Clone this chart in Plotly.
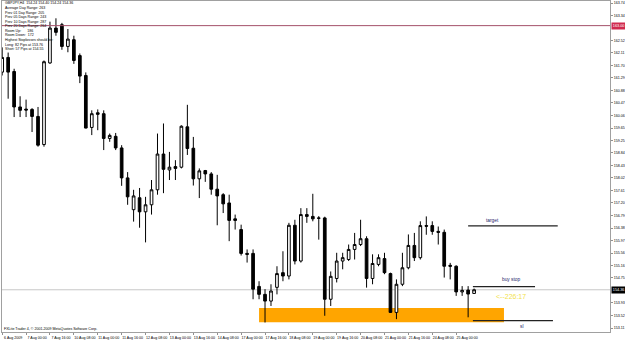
import plotly.graph_objects as go

# ---------------- data (GBPJPY H4) ----------------
OPEN = [161.48, 161.96, 161.50, 160.34, 160.27, 160.26, 160.03, 159.11, 161.78, 162.92,
        163.03, 162.32, 162.54, 162.02, 161.37, 159.67, 160.15, 160.12, 159.31, 159.38,
        159.00, 158.02, 156.98, 157.37, 156.91, 157.14, 157.63, 158.80, 158.28, 158.39,
        158.37, 159.69, 158.99, 157.99, 158.26, 158.15, 157.65, 157.47, 157.20, 156.68,
        156.33, 155.55, 155.55, 154.47, 154.21, 153.99, 154.44, 154.92, 154.81, 156.47,
        155.30, 156.82, 156.76, 156.71, 156.71, 154.05, 154.73, 155.30, 155.35, 155.68,
        155.84, 156.03, 154.73, 155.19, 155.38, 154.89, 153.62, 154.54, 155.08, 155.81,
        155.41, 156.46, 156.46, 156.27, 156.24, 155.16, 155.13, 154.29, 154.35, 154.24]
HIGH = [162.29, 162.12, 161.59, 160.69, 160.58, 160.30, 160.34, 161.86, 163.13, 163.24,
        163.09, 162.89, 162.67, 162.09, 161.47, 160.23, 160.26, 160.23, 159.47, 159.49,
        159.09, 158.21, 157.63, 157.69, 157.40, 157.95, 159.47, 159.80, 158.87, 158.60,
        159.74, 160.41, 159.36, 158.33, 158.28, 158.21, 158.12, 157.52, 157.47, 156.82,
        156.49, 155.68, 155.68, 154.64, 154.38, 154.54, 155.13, 155.62, 156.55, 156.65,
        157.03, 157.03, 157.50, 156.77, 156.75, 154.96, 155.57, 155.57, 155.84, 156.22,
        156.65, 156.11, 155.52, 155.52, 155.57, 154.92, 154.70, 155.57, 156.17, 156.22,
        156.60, 156.76, 156.60, 156.43, 156.33, 155.24, 155.16, 154.48, 154.48, 154.40]
LOW = [161.37, 160.61, 160.01, 160.01, 160.01, 159.52, 159.04, 159.04, 161.75, 162.67,
       162.21, 162.13, 161.75, 161.12, 159.64, 159.42, 159.58, 158.93, 159.20, 158.93,
       157.76, 157.14, 156.59, 156.39, 155.91, 156.82, 157.47, 157.52, 157.95, 157.95,
       158.33, 158.77, 157.77, 157.36, 157.89, 157.47, 156.47, 156.87, 155.95, 156.33,
       155.48, 155.25, 154.05, 154.05, 153.29, 153.83, 154.21, 154.64, 154.70, 155.19,
       155.25, 156.55, 156.60, 156.00, 153.51, 153.83, 154.60, 155.03, 155.30, 155.35,
       155.79, 154.43, 154.54, 155.13, 154.87, 153.60, 153.40, 154.48, 155.03, 155.30,
       155.35, 156.16, 156.16, 155.84, 154.76, 154.70, 154.16, 154.16, 153.46, 154.24]
CLOSE = [161.96, 161.48, 160.34, 160.23, 160.24, 160.03, 159.09, 161.82, 162.92, 162.78,
         162.32, 162.56, 161.86, 161.35, 159.65, 160.12, 160.10, 159.31, 159.41, 159.00,
         158.02, 157.40, 157.43, 156.91, 157.14, 157.63, 158.80, 158.30, 158.37, 158.33,
         159.71, 158.98, 157.99, 158.25, 158.15, 157.65, 157.43, 157.17, 156.63, 156.63,
         155.55, 155.52, 154.38, 154.21, 153.99, 154.32, 154.89, 154.81, 156.47, 155.30,
         156.82, 156.76, 156.68, 156.70, 154.05, 154.80, 155.30, 155.41, 155.68, 155.84,
         156.03, 154.73, 155.22, 155.41, 154.92, 153.62, 154.54, 155.08, 155.81, 155.41,
         156.46, 156.44, 156.27, 156.24, 155.13, 155.13, 154.29, 154.34, 154.22, 154.36]
BARS = list(range(len(OPEN)))

TIME_TICK_BARS = [0, 4, 8, 12, 16, 20, 24, 28, 32, 36, 40, 44, 48, 52, 56, 60, 64, 68, 72, 76]
TIME_TICK_LABELS = ["6 Aug 2009", "7 Aug 00:00", "7 Aug 16:00", "10 Aug 08:00", "11 Aug 00:00",
                    "11 Aug 16:00", "12 Aug 08:00", "13 Aug 00:00", "13 Aug 16:00", "14 Aug 08:00",
                    "17 Aug 00:00", "17 Aug 16:00", "18 Aug 08:00", "19 Aug 00:00", "19 Aug 16:00",
                    "20 Aug 08:00", "21 Aug 00:00", "21 Aug 16:00", "24 Aug 08:00", "25 Aug 00:00"]
PRICE_TICKS = [153.11, 153.52, 153.93, 154.75, 155.16, 155.56, 155.97, 156.38, 156.79,
               157.20, 157.61, 158.02, 158.43, 158.84, 159.25, 159.65, 160.06, 160.47, 160.88,
               161.29, 161.70, 162.11, 162.52, 163.34, 163.74]

INFO_LINES = ["GBPJPY,H4  154.24 154.40 154.24 154.36",
              "Average Day Range: 263",
              "Prev 01 Day Range: 205",
              "Prev 05 Days Range: 243",
              "Prev 10 Days Range: 287",
              "Prev 20 Days Range: 264",
              "Room Up:      186",
              "Room Down:  172",
              "Highest Stoplosses should be:",
              "Long: 82 Pips at 153.76",
              "Short: 57 Pips at 154.55"]
COPYRIGHT = "FXLite Trader 4, \u00a9 2001-2009 MetaQuotes Software Corp."

CURRENT_PRICE = 154.36
MAROON_LEVEL = 163.00
ZONE = dict(bar0=43, bar1=84, low=153.30, high=153.76)
TARGET = dict(bar0=78.0, bar1=93.0, price=156.45, label="target", label_bar=82.1, label_price=156.63)
BUYSTOP = dict(bar0=78.8, bar1=89.2, price=154.46, label="buy stop", label_bar=85.1, label_price=154.70)
STOPLOSS = dict(bar0=78.8, bar1=92.2, price=153.35, label="sl", label_bar=86.9, label_price=153.17)
TIMER_TEXT = "<--226:17"
TIMER_POS = dict(bar=85.1, price=154.14)

X_RANGE = [-0.03, 101.75]
Y_RANGE = [152.979, 163.806]

FONT = "Liberation Sans"
W, H = 625, 340
ML, MR, MT, MB = 2, 14, 0, 7
PLOT_H = H - MT - MB

fig = go.Figure()
fig.add_trace(go.Candlestick(
    x=BARS, open=OPEN, high=HIGH, low=LOW, close=CLOSE,
    increasing=dict(line=dict(color="black", width=1), fillcolor="white"),
    decreasing=dict(line=dict(color="black", width=1), fillcolor="black"),
    whiskerwidth=0, hoverinfo="skip", showlegend=False,
))

shapes = [
    dict(type="rect", xref="x", yref="y", x0=ZONE["bar0"], x1=ZONE["bar1"],
         y0=ZONE["low"], y1=ZONE["high"], fillcolor="#FFA500", line=dict(width=0), layer="below"),
    dict(type="line", xref="paper", yref="y", x0=0, x1=1, y0=CURRENT_PRICE, y1=CURRENT_PRICE,
         line=dict(color="#C8C8C8", width=1), layer="below"),
    dict(type="line", xref="paper", yref="y", x0=0, x1=1, y0=MAROON_LEVEL, y1=MAROON_LEVEL,
         line=dict(color="#A4506A", width=1), layer="above"),
]
for ln in (TARGET, BUYSTOP, STOPLOSS):
    shapes.append(dict(type="line", xref="x", yref="y", x0=ln["bar0"], x1=ln["bar1"],
                       y0=ln["price"], y1=ln["price"], line=dict(color="#222222", width=1.3)))

ann = []
for k, t in enumerate(INFO_LINES):
    ypx = 2.5 + 4.6 * k
    ann.append(dict(text=t, xref="paper", yref="paper", x=1 / (W - ML - MR), y=1 - ypx / PLOT_H,
                    xanchor="left", yanchor="middle", showarrow=False,
                    font=dict(family=FONT, size=3.6, color="black")))
ann.append(dict(text=COPYRIGHT, xref="paper", yref="paper", x=0.5 / (W - ML - MR), y=1 - 329.5 / PLOT_H,
                xanchor="left", yanchor="middle", showarrow=False,
                font=dict(family=FONT, size=3.6, color="black")))
for ln in (TARGET, BUYSTOP, STOPLOSS):
    ann.append(dict(text=ln["label"], xref="x", yref="y", x=ln["label_bar"], y=ln["label_price"],
                    showarrow=False, xanchor="center", yanchor="middle",
                    font=dict(family=FONT, size=4.8, color="#23236b")))
ann.append(dict(text=TIMER_TEXT, xref="x", yref="y", x=TIMER_POS["bar"], y=TIMER_POS["price"],
                showarrow=False, xanchor="center", yanchor="middle",
                font=dict(family=FONT, size=7, color="#F2E24A")))
# price labels on the axis
ann.append(dict(text="%.2f" % MAROON_LEVEL, xref="paper", yref="y", x=1, y=MAROON_LEVEL,
                xanchor="left", yanchor="middle", xshift=1, showarrow=False, bgcolor="#D02A4E",
                borderpad=0.8, font=dict(family=FONT, size=3.8, color="white")))
ann.append(dict(text="%.2f" % CURRENT_PRICE, xref="paper", yref="y", x=1, y=CURRENT_PRICE,
                xanchor="left", yanchor="middle", xshift=1, showarrow=False, bgcolor="black",
                borderpad=0.8, font=dict(family=FONT, size=3.8, color="white")))

fig.update_layout(
    width=W, height=H, margin=dict(l=ML, r=MR, t=MT, b=MB, pad=0),
    paper_bgcolor="white", plot_bgcolor="white", showlegend=False,
    boxgap=0.36, shapes=shapes, annotations=ann,
    font=dict(family=FONT, size=3.6, color="black"),
)
fig.update_xaxes(
    range=X_RANGE, rangeslider=dict(visible=False), showgrid=False, zeroline=False,
    tickmode="array", tickvals=TIME_TICK_BARS, ticktext=TIME_TICK_LABELS,
    ticks="outside", ticklen=2, tickcolor="#909090", ticklabelshift=11,
    tickfont=dict(family=FONT, size=3.6, color="black"),
    showline=True, linecolor="#A0A0A0", linewidth=1, mirror=True,
)
fig.update_yaxes(
    range=Y_RANGE, side="right", showgrid=False, zeroline=False,
    tickmode="array", tickvals=PRICE_TICKS, tickformat=".2f",
    ticks="outside", ticklen=2, tickcolor="#909090",
    tickfont=dict(family=FONT, size=3.6, color="black"),
    showline=True, linecolor="#A0A0A0", linewidth=1, mirror=True,
)

fig.write_html("out.html")
